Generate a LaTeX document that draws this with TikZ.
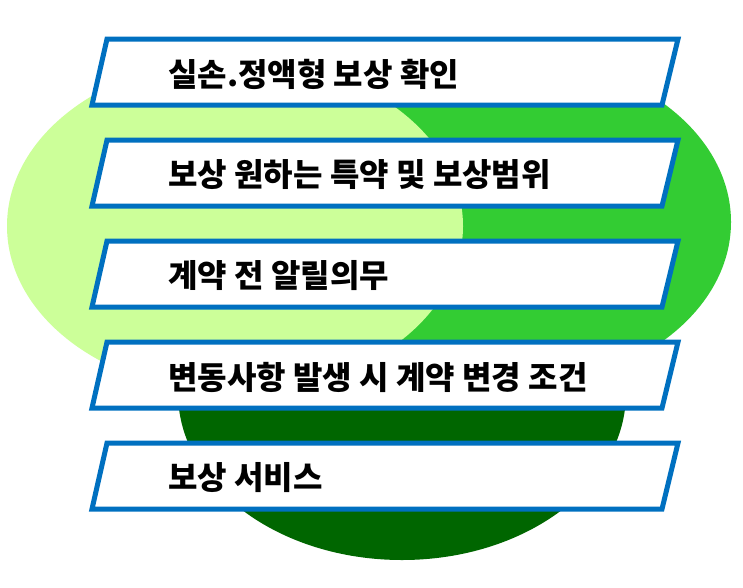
\documentclass[tikz,border=0pt]{standalone}
\usepackage{fontspec}
\newfontfamily\kofont{Noto Sans CJK KR}
\definecolor{lgreen}{HTML}{CCFF99}
\definecolor{mgreen}{HTML}{33CC33}
\definecolor{dgreen}{HTML}{006600}
\definecolor{boxblue}{HTML}{0070C0}
\tikzset{
  boxline/.style={draw=boxblue,fill=white,line width=5pt},
  itemtext/.style={anchor=west,inner sep=0pt,font=\kofont\bfseries\fontsize{32}{36}\selectfont}
}

\begin{document}
\begin{tikzpicture}[x=1pt,y=-1pt]
  \useasboundingbox (0,0) rectangle (743,587);
  % three circles behind the list
  \fill[dgreen] (402,393) ellipse [x radius=224pt, y radius=167pt];
  \fill[mgreen] (503,222) ellipse [x radius=228pt, y radius=167pt];
  \fill[lgreen] (235,226) ellipse [x radius=228pt, y radius=167pt];
  % the five boxes
  \foreach \i/\txt in {0/{실손.정액형 보상 확인},1/{보상 원하는 특약 및 보상범위},2/{계약 전 알릴의무},3/{변동사항 발생 시 계약 변경 조건},4/{보상 서비스}}{
    \pgfmathsetmacro\ytop{39+101*\i}
    \draw[boxline] (107,\ytop) -- (678,\ytop) -- (662,\ytop+66) -- (92,\ytop+66) -- cycle;
    \node[itemtext] (t\i) at (168,\ytop+35) {\txt};
  }
\end{tikzpicture}
\end{document}
